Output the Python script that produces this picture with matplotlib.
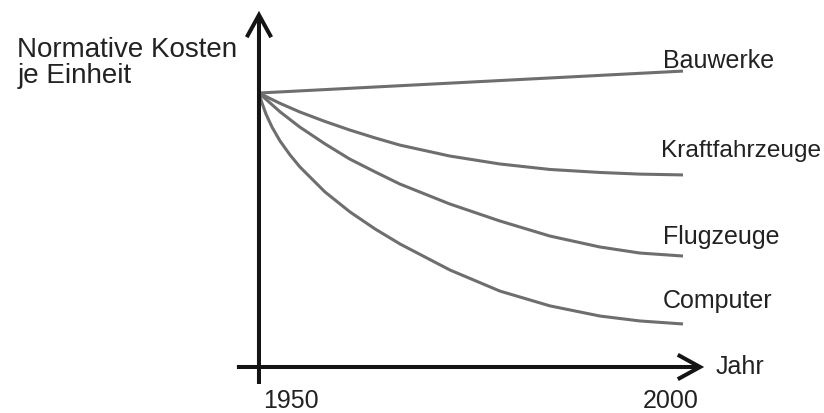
import matplotlib.pyplot as plt

plt.rcParams["font.family"] = ["Liberation Sans", "DejaVu Sans"]

# values (years, normative cost, start = 100)
years = [1950, 1951.3, 1952.5, 1954.8, 1957.8, 1960.7, 1963.7, 1966.6, 1972.5, 1978.4, 1984.3, 1990.2, 1994.9, 2000]
years_comp = [1950, 1950.35, 1950.83, 1951.53, 1952.48, 1953.66, 1954.83, 1957.78, 1960.73, 1963.68,
              1966.63, 1972.52, 1978.42, 1984.32, 1990.21, 1994.93, 2000]

bauwerke_years = [1950, 2000]
bauwerke = [100, 108]
kraftfahrzeuge = [100, 98.0, 96.2, 93.1, 89.6, 86.5, 83.6, 81.0, 77.0, 74.1, 72.1, 71.0, 70.4, 70.1]
flugzeuge = [100, 96.4, 93.1, 87.6, 81.4, 75.9, 71.2, 66.8, 59.5, 53.3, 47.8, 43.8, 41.6, 40.5]
computer = [100, 96.4, 92.3, 87.6, 82.5, 77.4, 73.0, 63.9, 56.6, 50.4, 44.9, 35.4, 27.7, 22.3, 18.6, 16.8, 15.7]

labels = ["Bauwerke", "Kraftfahrzeuge", "Flugzeuge", "Computer"]
label_offsets = [(-14.4, 2.9), (-16.0, 13.7), (-14.4, 9.4), (-14.4, 12.2)]
label_sizes = [18, 17.6, 18, 18]

grey = "#6e6e6e"
black = "#141414"
txt = "#222222"

fig = plt.figure(figsize=(8.24, 4.14), dpi=100)
ax = fig.add_axes([0, 0, 1, 1])
ax.set_xlim(1919.46, 2016.63)
ax.set_ylim(-16.79, 134.31)
ax.axis("off")

series = [
    (bauwerke_years, bauwerke),
    (years, kraftfahrzeuge),
    (years, flugzeuge),
    (years_comp, computer),
]
for (xs, ys), name, off, fs in zip(series, labels, label_offsets, label_sizes):
    ax.plot(xs, ys, color=grey, lw=2.2, solid_capstyle="butt", solid_joinstyle="round", zorder=2)
    ax.annotate(name, xy=(xs[-1], ys[-1]), xytext=off, textcoords="offset points",
                ha="left", va="baseline", fontsize=fs, color=txt)

# axes with open arrow heads
arrow = dict(arrowstyle="->,head_length=0.4,head_width=0.22", lw=2.9, color=black,
             mutation_scale=40, shrinkA=0, shrinkB=0, joinstyle="miter", capstyle="butt")
ax.annotate("", xy=(2002.5, 0), xytext=(1947.4, 0), arrowprops=arrow, zorder=3)
ax.annotate("", xy=(1950, 130), xytext=(1950, -6.2), arrowprops=arrow, zorder=3)

ax.text(2003.9, -2.2, "Jahr", ha="left", va="baseline", fontsize=18, color=txt)
ax.text(1950.5, -14.6, "1950", ha="left", va="baseline", fontsize=18, color=txt)
ax.text(1995.3, -14.6, "2000", ha="left", va="baseline", fontsize=18, color=txt)

ax.text(1921.5, 113.5, "Normative Kosten", ha="left", va="baseline", fontsize=20, color=txt)
ax.text(1921.5, 104.0, "je Einheit", ha="left", va="baseline", fontsize=20, color=txt)

fig.savefig("out.png", dpi=100)
